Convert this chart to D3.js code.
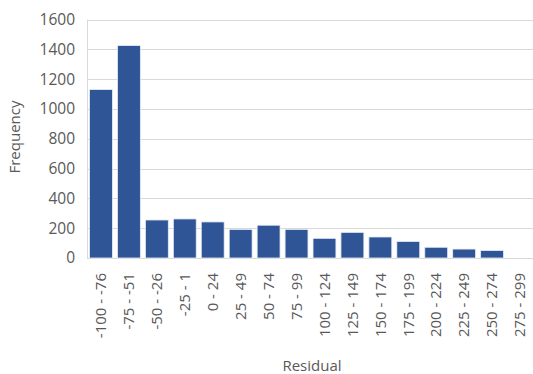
<!DOCTYPE html>
<html>
<head>
<meta charset="utf-8">
<script src="https://cdn.jsdelivr.net/npm/d3@7"></script>
<style>
  html, body { margin: 0; padding: 0; background: #fff; }
  svg { display: block; }
  text { font-family: "Open Sans", "DejaVu Sans", sans-serif; fill: #595959; }
</style>
</head>
<body>
<svg id="chart" width="533" height="374"></svg>
<script>
// Residual bins and their frequencies
const categories = ["-100 - -76", "-75 - -51", "-50 - -26", "-25 - 1", "0 - 24", "25 - 49",
  "50 - 74", "75 - 99", "100 - 124", "125 - 149", "150 - 174", "175 - 199",
  "200 - 224", "225 - 249", "250 - 274", "275 - 299"];
const frequency = [1130, 1425, 255, 262, 242, 192, 220, 192, 132, 172, 141, 111, 72, 60, 50, 0];
const yTicks = [0, 200, 400, 600, 800, 1000, 1200, 1400, 1600];

const svg = d3.select("#chart");
const plotLeft = 87, plotRight = 534, plotTop = 19.5, plotBottom = 258;

const x = d3.scaleBand().domain(categories).range([plotLeft, plotRight]).paddingInner(0.18).paddingOuter(0.09);
const y = d3.scaleLinear().domain([0, 1600]).range([plotBottom, plotTop]);

// Horizontal gridlines
svg.append("g").selectAll("line").data(yTicks).join("line")
  .attr("x1", plotLeft).attr("x2", 533)
  .attr("y1", d => Math.round(y(d)) + 0.5).attr("y2", d => Math.round(y(d)) + 0.5)
  .attr("stroke", "#d9d9d9").attr("stroke-width", 1);

// Left border of the plot area
svg.append("line")
  .attr("x1", plotLeft + 0.5).attr("x2", plotLeft + 0.5)
  .attr("y1", y(1600)).attr("y2", plotBottom)
  .attr("stroke", "#d9d9d9");

// Bars
svg.append("g").selectAll("rect").data(categories).join("rect")
  .attr("x", d => x(d))
  .attr("width", x.bandwidth())
  .attr("y", (d, i) => y(frequency[i]))
  .attr("height", (d, i) => plotBottom - y(frequency[i]))
  .attr("fill", "#2f5597")
  .attr("stroke", "#e8edf6").attr("stroke-width", 0.8);

// Y axis labels
const yAxis = d3.axisLeft(y).tickValues(yTicks).tickFormat(d3.format("d")).tickSize(0).tickPadding(0);
const gy = svg.append("g").attr("transform", `translate(${plotLeft - 12},0)`).call(yAxis);
gy.select(".domain").remove();
gy.selectAll("text").attr("font-size", 15.5).attr("fill", "#595959")
  .style("font-family", '"Open Sans", "DejaVu Sans", sans-serif');

// X axis labels, rotated
const xAxis = d3.axisBottom(x).tickSize(0).tickPadding(0);
const gx = svg.append("g").attr("transform", `translate(0,${plotBottom})`).call(xAxis);
gx.select(".domain").remove();
gx.selectAll("text")
  .attr("font-size", 15)
  .attr("fill", "#595959")
  .style("font-family", '"Open Sans", "DejaVu Sans", sans-serif')
  .attr("text-anchor", "end")
  .attr("y", 0)
  .attr("dy", "0.35em")
  .attr("transform", "translate(0,15) rotate(-90)");

// Axis titles
svg.append("text")
  .attr("x", 312).attr("y", 371)
  .attr("text-anchor", "middle")
  .attr("font-size", 15)
  .text("Residual");

svg.append("text")
  .attr("transform", "translate(20,137) rotate(-90)")
  .attr("text-anchor", "middle")
  .attr("font-size", 15)
  .text("Frequency");
</script>
</body>
</html>
